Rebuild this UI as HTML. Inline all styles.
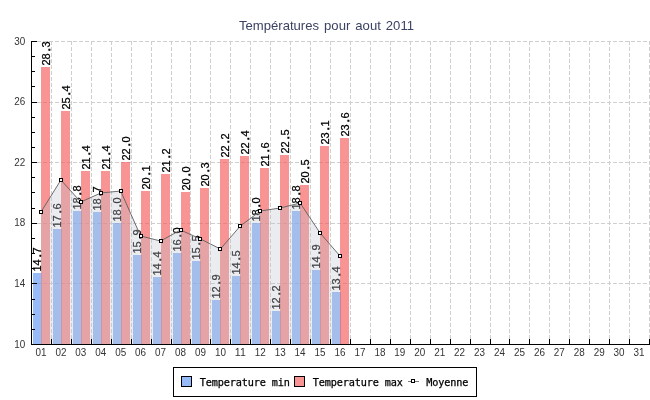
<!DOCTYPE html>
<html lang="fr"><head><meta charset="utf-8"><title>Températures pour aout 2011</title>
<style>html,body{margin:0;padding:0;background:#fff}svg{display:block}.ax{font-family:"Liberation Sans",sans-serif;font-size:10.4px;fill:#333}.ttl{font-family:"Liberation Sans",sans-serif;font-size:13.1px;word-spacing:1.4px;fill:#3b4262}.d{stroke-width:0.8px}.val{font-family:"Liberation Sans",sans-serif;font-size:11px;fill:#000;stroke:#000;stroke-width:0.25px}.mono{font-family:"DejaVu Sans Mono","Liberation Mono",monospace;font-size:10.2px;fill:#000;stroke:#000;stroke-width:0.25px}</style></head><body>
<svg width="650" height="400" viewBox="0 0 650 400">
<rect width="650" height="400" fill="#fff"/>
<g stroke="#cfcfcf" stroke-width="1" stroke-dasharray="4 2" shape-rendering="crispEdges" fill="none">
<line x1="31" y1="283.5" x2="650" y2="283.5"/>
<line x1="31" y1="223.5" x2="650" y2="223.5"/>
<line x1="31" y1="162.5" x2="650" y2="162.5"/>
<line x1="31" y1="102.5" x2="650" y2="102.5"/>
<line x1="31" y1="41.5" x2="650" y2="41.5"/>
<line x1="51.5" y1="41" x2="51.5" y2="344"/>
<line x1="71.5" y1="41" x2="71.5" y2="344"/>
<line x1="91.5" y1="41" x2="91.5" y2="344"/>
<line x1="111.5" y1="41" x2="111.5" y2="344"/>
<line x1="131.5" y1="41" x2="131.5" y2="344"/>
<line x1="151.5" y1="41" x2="151.5" y2="344"/>
<line x1="171.5" y1="41" x2="171.5" y2="344"/>
<line x1="190.5" y1="41" x2="190.5" y2="344"/>
<line x1="210.5" y1="41" x2="210.5" y2="344"/>
<line x1="230.5" y1="41" x2="230.5" y2="344"/>
<line x1="250.5" y1="41" x2="250.5" y2="344"/>
<line x1="270.5" y1="41" x2="270.5" y2="344"/>
<line x1="290.5" y1="41" x2="290.5" y2="344"/>
<line x1="310.5" y1="41" x2="310.5" y2="344"/>
<line x1="330.5" y1="41" x2="330.5" y2="344"/>
<line x1="350.5" y1="41" x2="350.5" y2="344"/>
<line x1="370.5" y1="41" x2="370.5" y2="344"/>
<line x1="390.5" y1="41" x2="390.5" y2="344"/>
<line x1="410.5" y1="41" x2="410.5" y2="344"/>
<line x1="430.5" y1="41" x2="430.5" y2="344"/>
<line x1="450.5" y1="41" x2="450.5" y2="344"/>
<line x1="470.5" y1="41" x2="470.5" y2="344"/>
<line x1="490.5" y1="41" x2="490.5" y2="344"/>
<line x1="509.5" y1="41" x2="509.5" y2="344"/>
<line x1="529.5" y1="41" x2="529.5" y2="344"/>
<line x1="549.5" y1="41" x2="549.5" y2="344"/>
<line x1="569.5" y1="41" x2="569.5" y2="344"/>
<line x1="589.5" y1="41" x2="589.5" y2="344"/>
<line x1="609.5" y1="41" x2="609.5" y2="344"/>
<line x1="629.5" y1="41" x2="629.5" y2="344"/>
<line x1="649.5" y1="41" x2="649.5" y2="344"/>
</g>
<g shape-rendering="crispEdges">
<rect x="33" y="273" width="9" height="71" fill="rgba(95,150,246,0.65)"/>
<rect x="41" y="67" width="9" height="277" fill="rgba(246,90,90,0.65)"/>
<rect x="53" y="229" width="9" height="115" fill="rgba(95,150,246,0.65)"/>
<rect x="61" y="111" width="9" height="233" fill="rgba(246,90,90,0.65)"/>
<rect x="73" y="211" width="9" height="133" fill="rgba(95,150,246,0.65)"/>
<rect x="81" y="171" width="9" height="173" fill="rgba(246,90,90,0.65)"/>
<rect x="93" y="212" width="9" height="132" fill="rgba(95,150,246,0.65)"/>
<rect x="101" y="171" width="9" height="173" fill="rgba(246,90,90,0.65)"/>
<rect x="113" y="223" width="9" height="121" fill="rgba(95,150,246,0.65)"/>
<rect x="121" y="162" width="9" height="182" fill="rgba(246,90,90,0.65)"/>
<rect x="133" y="255" width="9" height="89" fill="rgba(95,150,246,0.65)"/>
<rect x="141" y="191" width="9" height="153" fill="rgba(246,90,90,0.65)"/>
<rect x="153" y="277" width="9" height="67" fill="rgba(95,150,246,0.65)"/>
<rect x="161" y="174" width="9" height="170" fill="rgba(246,90,90,0.65)"/>
<rect x="173" y="253" width="9" height="91" fill="rgba(95,150,246,0.65)"/>
<rect x="181" y="192" width="9" height="152" fill="rgba(246,90,90,0.65)"/>
<rect x="192" y="261" width="9" height="83" fill="rgba(95,150,246,0.65)"/>
<rect x="200" y="188" width="9" height="156" fill="rgba(246,90,90,0.65)"/>
<rect x="212" y="300" width="9" height="44" fill="rgba(95,150,246,0.65)"/>
<rect x="220" y="159" width="9" height="185" fill="rgba(246,90,90,0.65)"/>
<rect x="232" y="276" width="9" height="68" fill="rgba(95,150,246,0.65)"/>
<rect x="240" y="156" width="9" height="188" fill="rgba(246,90,90,0.65)"/>
<rect x="252" y="223" width="9" height="121" fill="rgba(95,150,246,0.65)"/>
<rect x="260" y="168" width="9" height="176" fill="rgba(246,90,90,0.65)"/>
<rect x="272" y="311" width="9" height="33" fill="rgba(95,150,246,0.65)"/>
<rect x="280" y="155" width="9" height="189" fill="rgba(246,90,90,0.65)"/>
<rect x="292" y="211" width="9" height="133" fill="rgba(95,150,246,0.65)"/>
<rect x="300" y="185" width="9" height="159" fill="rgba(246,90,90,0.65)"/>
<rect x="312" y="270" width="9" height="74" fill="rgba(95,150,246,0.65)"/>
<rect x="320" y="146" width="9" height="198" fill="rgba(246,90,90,0.65)"/>
<rect x="332" y="292" width="9" height="52" fill="rgba(95,150,246,0.65)"/>
<rect x="340" y="138" width="9" height="206" fill="rgba(246,90,90,0.65)"/>
</g>
<g class="val">
<text transform="translate(40.5,271.5) rotate(-90)" x="0 6 14.3 18">14<tspan class="d">.</tspan>7</text>
<text transform="translate(49.5,65.5) rotate(-90)" x="0 6 14.3 18">28<tspan class="d">.</tspan>3</text>
<text transform="translate(60.5,227.5) rotate(-90)" x="0 6 14.3 18">17<tspan class="d">.</tspan>6</text>
<text transform="translate(69.5,109.5) rotate(-90)" x="0 6 14.3 18">25<tspan class="d">.</tspan>4</text>
<text transform="translate(80.5,209.5) rotate(-90)" x="0 6 14.3 18">18<tspan class="d">.</tspan>8</text>
<text transform="translate(89.5,169.5) rotate(-90)" x="0 6 14.3 18">21<tspan class="d">.</tspan>4</text>
<text transform="translate(100.5,210.5) rotate(-90)" x="0 6 14.3 18">18<tspan class="d">.</tspan>7</text>
<text transform="translate(109.5,169.5) rotate(-90)" x="0 6 14.3 18">21<tspan class="d">.</tspan>4</text>
<text transform="translate(120.5,221.5) rotate(-90)" x="0 6 14.3 18">18<tspan class="d">.</tspan>0</text>
<text transform="translate(129.5,160.5) rotate(-90)" x="0 6 14.3 18">22<tspan class="d">.</tspan>0</text>
<text transform="translate(140.5,253.5) rotate(-90)" x="0 6 14.3 18">15<tspan class="d">.</tspan>9</text>
<text transform="translate(149.5,189.5) rotate(-90)" x="0 6 14.3 18">20<tspan class="d">.</tspan>1</text>
<text transform="translate(160.5,275.5) rotate(-90)" x="0 6 14.3 18">14<tspan class="d">.</tspan>4</text>
<text transform="translate(169.5,172.5) rotate(-90)" x="0 6 14.3 18">21<tspan class="d">.</tspan>2</text>
<text transform="translate(180.5,251.5) rotate(-90)" x="0 6 14.3 18">16<tspan class="d">.</tspan>0</text>
<text transform="translate(189.5,190.5) rotate(-90)" x="0 6 14.3 18">20<tspan class="d">.</tspan>0</text>
<text transform="translate(199.5,259.5) rotate(-90)" x="0 6 14.3 18">15<tspan class="d">.</tspan>5</text>
<text transform="translate(208.5,186.5) rotate(-90)" x="0 6 14.3 18">20<tspan class="d">.</tspan>3</text>
<text transform="translate(219.5,298.5) rotate(-90)" x="0 6 14.3 18">12<tspan class="d">.</tspan>9</text>
<text transform="translate(228.5,157.5) rotate(-90)" x="0 6 14.3 18">22<tspan class="d">.</tspan>2</text>
<text transform="translate(239.5,274.5) rotate(-90)" x="0 6 14.3 18">14<tspan class="d">.</tspan>5</text>
<text transform="translate(248.5,154.5) rotate(-90)" x="0 6 14.3 18">22<tspan class="d">.</tspan>4</text>
<text transform="translate(259.5,221.5) rotate(-90)" x="0 6 14.3 18">18<tspan class="d">.</tspan>0</text>
<text transform="translate(268.5,166.5) rotate(-90)" x="0 6 14.3 18">21<tspan class="d">.</tspan>6</text>
<text transform="translate(279.5,309.5) rotate(-90)" x="0 6 14.3 18">12<tspan class="d">.</tspan>2</text>
<text transform="translate(288.5,153.5) rotate(-90)" x="0 6 14.3 18">22<tspan class="d">.</tspan>5</text>
<text transform="translate(299.5,209.5) rotate(-90)" x="0 6 14.3 18">18<tspan class="d">.</tspan>8</text>
<text transform="translate(308.5,183.5) rotate(-90)" x="0 6 14.3 18">20<tspan class="d">.</tspan>5</text>
<text transform="translate(319.5,268.5) rotate(-90)" x="0 6 14.3 18">14<tspan class="d">.</tspan>9</text>
<text transform="translate(328.5,144.5) rotate(-90)" x="0 6 14.3 18">23<tspan class="d">.</tspan>1</text>
<text transform="translate(339.5,290.5) rotate(-90)" x="0 6 14.3 18">13<tspan class="d">.</tspan>4</text>
<text transform="translate(348.5,136.5) rotate(-90)" x="0 6 14.3 18">23<tspan class="d">.</tspan>6</text>
</g>
<polygon points="41.0,212.0 60.9,180.0 80.8,202.0 100.8,193.0 120.7,191.0 140.6,236.0 160.6,241.0 180.5,230.0 200.5,239.0 220.4,249.0 240.3,226.0 260.3,211.0 280.2,208.0 300.1,203.0 320.1,233.0 340.0,256.0 340.0,344 41.0,344" fill="rgba(190,195,205,0.32)"/>
<polyline points="41.0,212.0 60.9,180.0 80.8,202.0 100.8,193.0 120.7,191.0 140.6,236.0 160.6,241.0 180.5,230.0 200.5,239.0 220.4,249.0 240.3,226.0 260.3,211.0 280.2,208.0 300.1,203.0 320.1,233.0 340.0,256.0" fill="none" stroke="#5f5f5f" stroke-width="0.9"/>
<g shape-rendering="crispEdges" fill="#fff" stroke="#000" stroke-width="1">
<rect x="39.5" y="210.5" width="3" height="3"/>
<rect x="59.5" y="178.5" width="3" height="3"/>
<rect x="79.5" y="200.5" width="3" height="3"/>
<rect x="99.5" y="191.5" width="3" height="3"/>
<rect x="119.5" y="189.5" width="3" height="3"/>
<rect x="139.5" y="234.5" width="3" height="3"/>
<rect x="159.5" y="239.5" width="3" height="3"/>
<rect x="179.5" y="228.5" width="3" height="3"/>
<rect x="198.5" y="237.5" width="3" height="3"/>
<rect x="218.5" y="247.5" width="3" height="3"/>
<rect x="238.5" y="224.5" width="3" height="3"/>
<rect x="258.5" y="209.5" width="3" height="3"/>
<rect x="278.5" y="206.5" width="3" height="3"/>
<rect x="298.5" y="201.5" width="3" height="3"/>
<rect x="318.5" y="231.5" width="3" height="3"/>
<rect x="338.5" y="254.5" width="3" height="3"/>
</g>
<g stroke="#000" stroke-width="1" shape-rendering="crispEdges">
<line x1="31.5" y1="41" x2="31.5" y2="345"/>
<line x1="31" y1="344.5" x2="650" y2="344.5"/>
<line x1="31" y1="344.5" x2="37" y2="344.5"/>
<line x1="31" y1="329.5" x2="35" y2="329.5"/>
<line x1="31" y1="314.5" x2="35" y2="314.5"/>
<line x1="31" y1="299.5" x2="35" y2="299.5"/>
<line x1="31" y1="283.5" x2="37" y2="283.5"/>
<line x1="31" y1="268.5" x2="35" y2="268.5"/>
<line x1="31" y1="253.5" x2="35" y2="253.5"/>
<line x1="31" y1="238.5" x2="35" y2="238.5"/>
<line x1="31" y1="223.5" x2="37" y2="223.5"/>
<line x1="31" y1="208.5" x2="35" y2="208.5"/>
<line x1="31" y1="192.5" x2="35" y2="192.5"/>
<line x1="31" y1="177.5" x2="35" y2="177.5"/>
<line x1="31" y1="162.5" x2="37" y2="162.5"/>
<line x1="31" y1="147.5" x2="35" y2="147.5"/>
<line x1="31" y1="132.5" x2="35" y2="132.5"/>
<line x1="31" y1="117.5" x2="35" y2="117.5"/>
<line x1="31" y1="102.5" x2="37" y2="102.5"/>
<line x1="31" y1="86.5" x2="35" y2="86.5"/>
<line x1="31" y1="71.5" x2="35" y2="71.5"/>
<line x1="31" y1="56.5" x2="35" y2="56.5"/>
<line x1="31" y1="41.5" x2="37" y2="41.5"/>
<line x1="51.5" y1="339" x2="51.5" y2="344"/>
<line x1="71.5" y1="339" x2="71.5" y2="344"/>
<line x1="91.5" y1="339" x2="91.5" y2="344"/>
<line x1="111.5" y1="339" x2="111.5" y2="344"/>
<line x1="131.5" y1="339" x2="131.5" y2="344"/>
<line x1="151.5" y1="339" x2="151.5" y2="344"/>
<line x1="171.5" y1="339" x2="171.5" y2="344"/>
<line x1="190.5" y1="339" x2="190.5" y2="344"/>
<line x1="210.5" y1="339" x2="210.5" y2="344"/>
<line x1="230.5" y1="339" x2="230.5" y2="344"/>
<line x1="250.5" y1="339" x2="250.5" y2="344"/>
<line x1="270.5" y1="339" x2="270.5" y2="344"/>
<line x1="290.5" y1="339" x2="290.5" y2="344"/>
<line x1="310.5" y1="339" x2="310.5" y2="344"/>
<line x1="330.5" y1="339" x2="330.5" y2="344"/>
<line x1="350.5" y1="339" x2="350.5" y2="344"/>
<line x1="370.5" y1="339" x2="370.5" y2="344"/>
<line x1="390.5" y1="339" x2="390.5" y2="344"/>
<line x1="410.5" y1="339" x2="410.5" y2="344"/>
<line x1="430.5" y1="339" x2="430.5" y2="344"/>
<line x1="450.5" y1="339" x2="450.5" y2="344"/>
<line x1="470.5" y1="339" x2="470.5" y2="344"/>
<line x1="490.5" y1="339" x2="490.5" y2="344"/>
<line x1="509.5" y1="339" x2="509.5" y2="344"/>
<line x1="529.5" y1="339" x2="529.5" y2="344"/>
<line x1="549.5" y1="339" x2="549.5" y2="344"/>
<line x1="569.5" y1="339" x2="569.5" y2="344"/>
<line x1="589.5" y1="339" x2="589.5" y2="344"/>
<line x1="609.5" y1="339" x2="609.5" y2="344"/>
<line x1="629.5" y1="339" x2="629.5" y2="344"/>
<line x1="649.5" y1="339" x2="649.5" y2="344"/>
</g>
<g class="ax" text-anchor="end">
<text x="25.3" y="347.6" textLength="11" lengthAdjust="spacingAndGlyphs">10</text>
<text x="25.3" y="287.0" textLength="11" lengthAdjust="spacingAndGlyphs">14</text>
<text x="25.3" y="226.4" textLength="11" lengthAdjust="spacingAndGlyphs">18</text>
<text x="25.3" y="165.8" textLength="11" lengthAdjust="spacingAndGlyphs">22</text>
<text x="25.3" y="105.2" textLength="11" lengthAdjust="spacingAndGlyphs">26</text>
<text x="25.3" y="44.6" textLength="11" lengthAdjust="spacingAndGlyphs">30</text>
</g>
<g class="ax" text-anchor="middle">
<text x="41.0" y="356" textLength="11" lengthAdjust="spacingAndGlyphs">01</text>
<text x="60.9" y="356" textLength="11" lengthAdjust="spacingAndGlyphs">02</text>
<text x="80.8" y="356" textLength="11" lengthAdjust="spacingAndGlyphs">03</text>
<text x="100.8" y="356" textLength="11" lengthAdjust="spacingAndGlyphs">04</text>
<text x="120.7" y="356" textLength="11" lengthAdjust="spacingAndGlyphs">05</text>
<text x="140.6" y="356" textLength="11" lengthAdjust="spacingAndGlyphs">06</text>
<text x="160.6" y="356" textLength="11" lengthAdjust="spacingAndGlyphs">07</text>
<text x="180.5" y="356" textLength="11" lengthAdjust="spacingAndGlyphs">08</text>
<text x="200.5" y="356" textLength="11" lengthAdjust="spacingAndGlyphs">09</text>
<text x="220.4" y="356" textLength="11" lengthAdjust="spacingAndGlyphs">10</text>
<text x="240.3" y="356" textLength="11" lengthAdjust="spacingAndGlyphs">11</text>
<text x="260.3" y="356" textLength="11" lengthAdjust="spacingAndGlyphs">12</text>
<text x="280.2" y="356" textLength="11" lengthAdjust="spacingAndGlyphs">13</text>
<text x="300.1" y="356" textLength="11" lengthAdjust="spacingAndGlyphs">14</text>
<text x="320.1" y="356" textLength="11" lengthAdjust="spacingAndGlyphs">15</text>
<text x="340.0" y="356" textLength="11" lengthAdjust="spacingAndGlyphs">16</text>
<text x="359.9" y="356" textLength="11" lengthAdjust="spacingAndGlyphs">17</text>
<text x="379.9" y="356" textLength="11" lengthAdjust="spacingAndGlyphs">18</text>
<text x="399.8" y="356" textLength="11" lengthAdjust="spacingAndGlyphs">19</text>
<text x="419.7" y="356" textLength="11" lengthAdjust="spacingAndGlyphs">20</text>
<text x="439.7" y="356" textLength="11" lengthAdjust="spacingAndGlyphs">21</text>
<text x="459.6" y="356" textLength="11" lengthAdjust="spacingAndGlyphs">22</text>
<text x="479.5" y="356" textLength="11" lengthAdjust="spacingAndGlyphs">23</text>
<text x="499.5" y="356" textLength="11" lengthAdjust="spacingAndGlyphs">24</text>
<text x="519.4" y="356" textLength="11" lengthAdjust="spacingAndGlyphs">25</text>
<text x="539.4" y="356" textLength="11" lengthAdjust="spacingAndGlyphs">26</text>
<text x="559.3" y="356" textLength="11" lengthAdjust="spacingAndGlyphs">27</text>
<text x="579.2" y="356" textLength="11" lengthAdjust="spacingAndGlyphs">28</text>
<text x="599.2" y="356" textLength="11" lengthAdjust="spacingAndGlyphs">29</text>
<text x="619.1" y="356" textLength="11" lengthAdjust="spacingAndGlyphs">30</text>
<text x="639.0" y="356" textLength="11" lengthAdjust="spacingAndGlyphs">31</text>
</g>
<text class="ttl" x="326.5" y="30" text-anchor="middle">Températures pour aout 2011</text>
<rect x="173.5" y="367.5" width="303" height="29" fill="#fff" stroke="#000" shape-rendering="crispEdges"/>
<g shape-rendering="crispEdges" stroke="#000">
<rect x="181.5" y="376.5" width="10" height="10" fill="#97bbf9"/>
<rect x="294.5" y="376.5" width="10" height="10" fill="#f99494"/>
<line x1="408" y1="381.5" x2="419" y2="381.5" stroke="#7a7a7a"/>
<rect x="411.5" y="379.5" width="3" height="3" fill="#fff"/>
</g>
<g class="mono">
<text transform="translate(199.8,386)" textLength="90">Temperature min</text>
<text transform="translate(312.8,386)" textLength="90">Temperature max</text>
<text transform="translate(426.3,386)" textLength="42">Moyenne</text>
</g>
</svg></body></html>
